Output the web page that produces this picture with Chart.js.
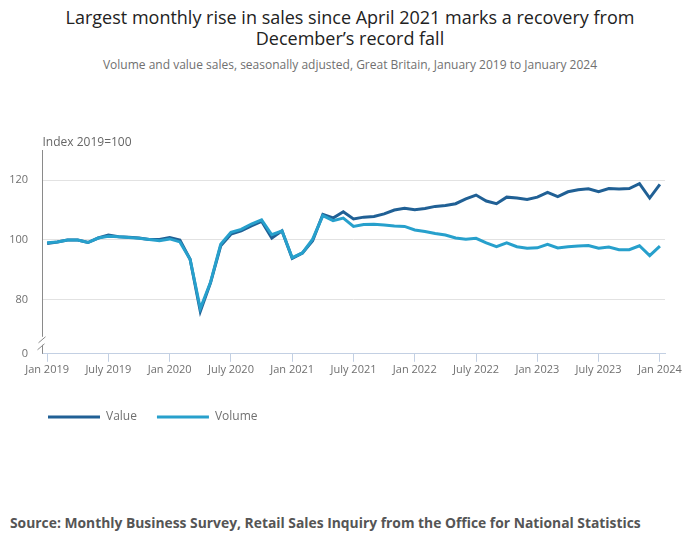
<!DOCTYPE html>
<html>
<head>
<meta charset="utf-8">
<script src="https://cdn.jsdelivr.net/npm/chart.js@4.4.1/dist/chart.umd.min.js"></script>
<style>
  body { margin: 0; width: 700px; height: 549px; background: #fff; font-family: "Open Sans", sans-serif; position: relative; overflow: hidden; }
  #title { position: absolute; top: 7px; left: 0; width: 700px; text-align: center; font-size: 18px; line-height: 21px; color: #222; }
  #subtitle { position: absolute; top: 56px; left: 0; width: 700px; text-align: center; font-size: 12px; color: #707070; }
  #source { position: absolute; top: 513px; left: 10px; font-size: 13.85px; font-weight: bold; color: #555; }
  #wrap { position: absolute; top: 120px; left: 0; width: 700px; height: 313px; }
</style>
</head>
<body>
<div id="title">Largest monthly rise in sales since April 2021 marks a recovery from<br>December’s record fall</div>
<div id="subtitle">Volume and value sales, seasonally adjusted, Great Britain, January 2019 to January 2024</div>
<div id="wrap"><canvas id="myChart"></canvas></div>
<div id="source">Source: Monthly Business Survey, Retail Sales Inquiry from the Office for National Statistics</div>
<script>
const months = [
  'Jan 2019', 'Feb 2019', 'Mar 2019', 'Apr 2019', 'May 2019', 'June 2019', 'July 2019', 'Aug 2019', 'Sept 2019', 'Oct 2019', 'Nov 2019', 'Dec 2019',
  'Jan 2020', 'Feb 2020', 'Mar 2020', 'Apr 2020', 'May 2020', 'June 2020', 'July 2020', 'Aug 2020', 'Sept 2020', 'Oct 2020', 'Nov 2020', 'Dec 2020',
  'Jan 2021', 'Feb 2021', 'Mar 2021', 'Apr 2021', 'May 2021', 'June 2021', 'July 2021', 'Aug 2021', 'Sept 2021', 'Oct 2021', 'Nov 2021', 'Dec 2021',
  'Jan 2022', 'Feb 2022', 'Mar 2022', 'Apr 2022', 'May 2022', 'June 2022', 'July 2022', 'Aug 2022', 'Sept 2022', 'Oct 2022', 'Nov 2022', 'Dec 2022',
  'Jan 2023', 'Feb 2023', 'Mar 2023', 'Apr 2023', 'May 2023', 'June 2023', 'July 2023', 'Aug 2023', 'Sept 2023', 'Oct 2023', 'Nov 2023', 'Dec 2023',
  'Jan 2024'
];

const valueSales = [
  98.8, 99.3, 99.9, 99.9, 99.1, 100.6, 101.6, 101.0, 100.9, 100.6, 100.1, 100.1,
  100.8, 99.9, 93.5, 76.0, 85.6, 98.0, 101.9, 103.0, 104.7, 106.2, 100.6, 103.0,
  93.8, 95.6, 99.7, 108.5, 107.3, 109.4, 107.0, 107.6, 107.8, 108.7, 110.0, 110.6,
  110.1, 110.5, 111.2, 111.5, 112.1, 113.7, 115.0, 113.0, 112.1, 114.3, 114.0, 113.5,
  114.3, 115.9, 114.5, 116.1, 116.8, 117.1, 116.1, 117.2, 117.0, 117.2, 118.8, 114.0,
  118.6
];

const volumeSales = [
  99.0, 99.3, 99.9, 99.9, 99.1, 100.6, 101.2, 101.0, 100.8, 100.5, 100.1, 99.7,
  100.3, 99.3, 93.5, 77.0, 85.8, 98.5, 102.5, 103.5, 105.3, 106.7, 101.7, 103.0,
  94.0, 95.6, 100.2, 108.1, 106.4, 107.3, 104.5, 105.1, 105.2, 105.0, 104.6, 104.5,
  103.3, 102.8, 102.1, 101.6, 100.6, 100.2, 100.5, 99.0, 97.7, 99.0, 97.7, 97.2,
  97.3, 98.5, 97.3, 97.7, 97.9, 98.1, 97.2, 97.6, 96.7, 96.7, 98.0, 94.7,
  97.9
];

const xTickLabels = ['Jan 2019', 'July 2019', 'Jan 2020', 'July 2020', 'Jan 2021', 'July 2021', 'Jan 2022', 'July 2022', 'Jan 2023', 'July 2023', 'Jan 2024'];
const yTickValues = [0, 80, 100, 120];

// the axis is broken below 80, so the "0" tick sits at the scale minimum
const Y_MIN = 61.8;
const Y_MAX = 130.1;

const axisColor = '#c3d0e3';

const brokenAxis = {
  id: 'brokenAxis',
  afterLayout(chart) {
    // push the legend in line with the plot instead of the canvas edge
    chart.legend.left += 20;
  },
  afterDraw(chart) {
    const { ctx, chartArea } = chart;
    const x = Math.round(chartArea.left) + 0.5;
    const b = chartArea.bottom;
    ctx.save();
    ctx.strokeStyle = '#8a8a8a';
    ctx.lineWidth = 1;
    ctx.beginPath();
    ctx.moveTo(x, chartArea.top);
    ctx.lineTo(x, b - 17);
    ctx.moveTo(x, b - 9);
    ctx.lineTo(x, b);
    ctx.moveTo(x - 4, b - 11);
    ctx.lineTo(x + 3, b - 17);
    ctx.moveTo(x - 5, b - 4);
    ctx.lineTo(x + 2, b - 10);
    ctx.stroke();
    // axis unit label above the plot
    ctx.fillStyle = '#666';
    ctx.font = '12px "Open Sans"';
    ctx.textAlign = 'left';
    ctx.textBaseline = 'alphabetic';
    ctx.fillText('Index 2019=100', x, chartArea.top - 4);
    ctx.restore();
  }
};

const ctx = document.getElementById('myChart').getContext('2d');

Chart.defaults.font.family = '"Open Sans", sans-serif';
Chart.defaults.color = '#707070';

const myChart = new Chart(ctx, {
  type: 'line',
  data: {
    labels: months,
    datasets: [{
      label: 'Value',
      data: valueSales,
      borderColor: '#206095',
      backgroundColor: '#206095',
      borderWidth: 3,
      pointRadius: 0,
      tension: 0,
      order: 2
    }, {
      label: 'Volume',
      data: volumeSales,
      borderColor: '#27a0cc',
      backgroundColor: '#27a0cc',
      borderWidth: 3,
      pointRadius: 0,
      tension: 0,
      order: 1
    }]
  },
  options: {
    responsive: true,
    maintainAspectRatio: false,
    animation: false,
    layout: { padding: { left: 8, right: 35, top: 30, bottom: 0 } },
    scales: {
      x: {
        offset: true,
        grid: {
          drawOnChartArea: false,
          tickLength: 8,
          color: (c) => (c.tick && xTickLabels.includes(months[c.tick.value])) ? axisColor : 'rgba(0,0,0,0)'
        },
        border: { color: axisColor },
        ticks: {
          autoSkip: false,
          maxRotation: 0,
          padding: 1,
          font: { size: 11 },
          color: '#707070',
          callback: function (value) {
            const lab = this.getLabelForValue(value);
            return xTickLabels.includes(lab) ? lab : '';
          }
        },
        afterFit(scale) { scale.height += 14; }
      },
      y: {
        min: Y_MIN,
        max: Y_MAX,
        afterBuildTicks(scale) {
          scale.ticks = yTickValues.map(v => ({ value: v === 0 ? Y_MIN : v }));
        },
        afterFit(scale) { scale.width = 34; },
        grid: {
          drawTicks: false,
          color: (c) => (c.tick && c.tick.value === Y_MIN) ? 'rgba(0,0,0,0)' : '#e2e2e2'
        },
        border: { display: false },
        ticks: {
          padding: 14,
          font: { size: 11 },
          color: '#707070',
          callback: (value) => value === Y_MIN ? '0' : String(value)
        }
      }
    },
    plugins: {
      legend: {
        position: 'bottom',
        align: 'start',
        labels: {
          usePointStyle: true,
          pointStyle: 'line',
          pointStyleWidth: 52,
          padding: 20,
          color: '#707070',
          font: { size: 12 },
          sort: (a, b) => a.datasetIndex - b.datasetIndex
        }
      },
      tooltip: { enabled: false }
    }
  },
  plugins: [brokenAxis]
});
</script>
</body>
</html>
